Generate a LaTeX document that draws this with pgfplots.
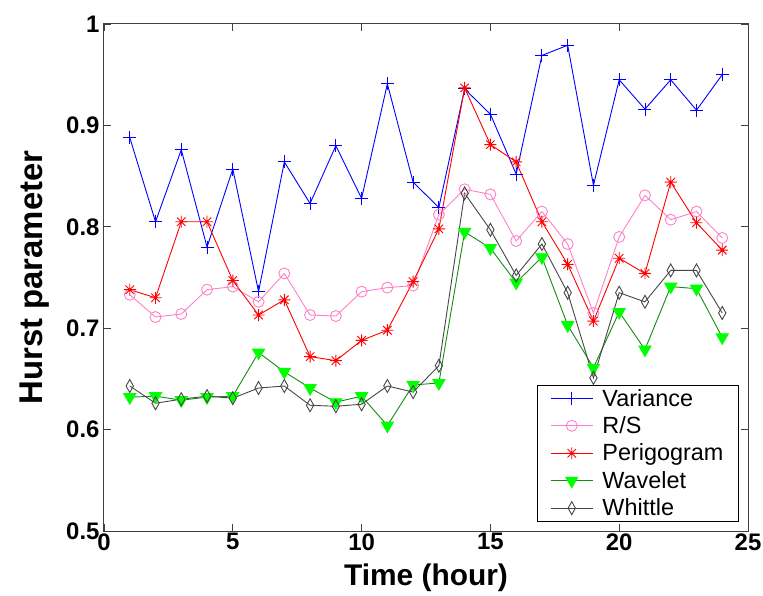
\documentclass[border=0pt]{standalone}
\usepackage{fontspec}
\setmainfont{Liberation Sans}
\usepackage{pgfplots}
\pgfplotsset{compat=1.18}
\usepackage{pgfplotstable}
\definecolor{vblue}{RGB}{0,0,255}
\definecolor{rspink}{RGB}{255,128,200}
\definecolor{pred}{RGB}{255,0,0}
\definecolor{wgreenline}{RGB}{20,140,20}
\definecolor{wgreen}{RGB}{0,255,0}
\definecolor{wgray}{RGB}{70,70,70}
\pgfdeclareplotmark{mstar}{%
  \pgfpathmoveto{\pgfqpoint{-\pgfplotmarksize}{0pt}}\pgfpathlineto{\pgfqpoint{\pgfplotmarksize}{0pt}}%
  \pgfpathmoveto{\pgfqpoint{0pt}{-\pgfplotmarksize}}\pgfpathlineto{\pgfqpoint{0pt}{\pgfplotmarksize}}%
  \pgfpathmoveto{\pgfqpoint{-.707\pgfplotmarksize}{-.707\pgfplotmarksize}}\pgfpathlineto{\pgfqpoint{.707\pgfplotmarksize}{.707\pgfplotmarksize}}%
  \pgfpathmoveto{\pgfqpoint{-.707\pgfplotmarksize}{.707\pgfplotmarksize}}\pgfpathlineto{\pgfqpoint{.707\pgfplotmarksize}{-.707\pgfplotmarksize}}%
  \pgfusepathqstroke}
\pgfplotstableread{
x var rs per wav whi
1 0.888 0.733 0.738 0.632 0.643
2 0.805 0.711 0.730 0.633 0.626
3 0.876 0.714 0.805 0.629 0.630
4 0.780 0.738 0.805 0.632 0.633
5 0.857 0.741 0.747 0.633 0.631
6 0.736 0.726 0.713 0.676 0.641
7 0.864 0.754 0.728 0.657 0.643
8 0.823 0.713 0.672 0.641 0.624
9 0.880 0.712 0.668 0.627 0.623
10 0.828 0.736 0.688 0.633 0.625
11 0.941 0.740 0.698 0.604 0.643
12 0.844 0.742 0.746 0.644 0.637
13 0.819 0.812 0.798 0.646 0.663
14 0.936 0.837 0.937 0.795 0.833
15 0.911 0.832 0.881 0.779 0.797
16 0.852 0.786 0.864 0.745 0.752
17 0.969 0.815 0.805 0.770 0.783
18 0.979 0.783 0.763 0.703 0.735
19 0.841 0.715 0.707 0.661 0.651
20 0.945 0.790 0.769 0.716 0.735
21 0.916 0.831 0.754 0.679 0.726
22 0.945 0.807 0.844 0.741 0.757
23 0.915 0.815 0.804 0.739 0.757
24 0.950 0.789 0.777 0.691 0.715
}\datatable
\begin{document}
\begin{tikzpicture}
\begin{axis}[
  scale only axis,
  width=644bp, height=507bp,
  xmin=0, xmax=25, ymin=0.5, ymax=1,
  xtick={0,5,10,15,20,25},
  ytick={0.5,0.6,0.7,0.8,0.9,1},
  yticklabels={0.5,0.6,0.7,0.8,0.9,1},
  tick align=inside,
  major tick length=7bp,
  tick style={color=black!75, line width=0.8bp},
  axis line style={color=black!75, line width=1bp},
  ticklabel style={font=\fontsize{24}{28}\selectfont\bfseries},
  /pgf/number format/assume math mode=true,
  yticklabel style={xshift=-1bp},
  xticklabel style={yshift=1bp},
  xlabel={Time (hour)},
  ylabel={Hurst parameter},
  xlabel style={font=\fontsize{30}{34}\selectfont\bfseries, yshift=-7bp},
  ylabel style={font=\fontsize{33}{37}\selectfont\bfseries, yshift=10bp},
  every axis plot/.append style={line width=0.9bp},
  legend style={at={(0.986,0.018)}, anchor=south east,
    font=\fontsize{23.5}{27}\selectfont, draw=black, line width=1bp,
    inner xsep=13bp, inner ysep=2bp, row sep=5bp, column sep=7bp, cells={anchor=west}},
  legend cell align=left,
  legend image code/.code={\draw[mark repeat=2,mark phase=2,#1] plot coordinates {(0cm,0cm) (0.75cm,0cm) (1.5cm,0cm)};},
]
\addplot[color=vblue, mark=+, mark size=6.5bp, mark options={solid, draw=vblue}] table[x=x,y=var]{\datatable};
\addlegendentry{Variance}
\addplot[color=rspink, mark=o, mark size=5.5bp, mark options={solid, draw=rspink}] table[x=x,y=rs]{\datatable};
\addlegendentry{R/S}
\addplot[color=pred, mark=mstar, mark size=6bp, mark options={solid, draw=pred}] table[x=x,y=per]{\datatable};
\addlegendentry{Perigogram}
\addplot[color=wgreenline, mark=triangle*, mark size=7bp, mark options={solid, rotate=180, fill=wgreen, draw=wgreen}] table[x=x,y=wav]{\datatable};
\addlegendentry{Wavelet}
\addplot[color=wgray, mark=diamond, mark size=6.5bp, mark options={solid, xscale=0.75, fill=white, draw=wgray}] table[x=x,y=whi]{\datatable};
\addlegendentry{Whittle}
\end{axis}
\pgfresetboundingbox
\path (-104bp,-65bp) rectangle (659bp,531bp);
\end{tikzpicture}
\end{document}
